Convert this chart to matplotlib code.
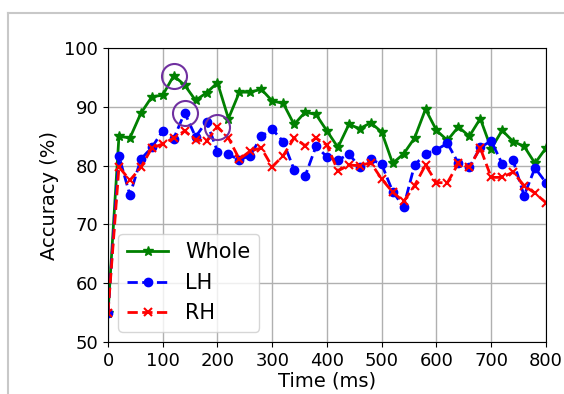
import numpy as np
import matplotlib
matplotlib.use('Agg')
from matplotlib import pyplot as plt
from matplotlib.lines import Line2D

# time axis (ms)
t = np.arange(0, 801, 20)

whole = [55.0, 85.0, 84.7, 88.9, 91.7, 92.0, 95.3, 93.7, 91.1, 92.4, 94.1,
         88.0, 92.5, 92.5, 93.0, 91.0, 90.6, 87.0, 89.1, 88.7, 85.9,
         83.1, 87.0, 86.3, 87.3, 85.7, 80.4, 82.0, 84.7, 89.6, 86.0,
         84.3, 86.6, 85.0, 88.0, 82.9, 86.0, 84.1, 83.3, 80.4, 83.0]
lh = [55.0, 81.6, 75.0, 81.1, 83.1, 85.9, 84.6, 89.0, 84.9, 87.5, 82.4,
      81.9, 81.0, 81.7, 85.0, 86.2, 84.1, 79.3, 78.2, 83.3, 81.5,
      80.9, 82.0, 79.7, 81.1, 80.2, 75.6, 73.0, 80.1, 82.0, 82.7,
      83.8, 80.4, 79.7, 83.1, 84.2, 80.3, 80.9, 74.9, 79.6, 77.1]
rh = [55.0, 79.8, 77.5, 79.7, 83.0, 83.7, 84.7, 85.9, 84.4, 84.2, 86.6,
      84.7, 81.1, 82.5, 83.0, 79.8, 81.7, 84.7, 83.4, 84.7, 83.5,
      79.1, 80.1, 80.0, 80.5, 77.7, 75.5, 73.9, 76.6, 80.1, 77.1,
      77.1, 80.4, 79.7, 83.0, 78.0, 78.0, 78.9, 76.6, 75.3, 73.7]

# highlighted peaks
peak_t = [120, 140, 200]
peak_y = [95.3, 89.0, 86.6]

fig = plt.figure(figsize=(5.64, 3.94), dpi=100)
ax = fig.add_axes([0.1915, 0.132, 0.7765, 0.746])

ax.plot(t, whole, color='green', ls='-', marker='*', ms=7, lw=2, label='Whole')
ax.plot(t, lh, color='blue', ls='--', marker='o', ms=6, lw=2, label='LH')
ax.plot(t, rh, color='red', ls='--', marker='x', ms=6, mew=1.5, lw=2, label='RH')
ax.plot(peak_t, peak_y, ls='none', marker='o', ms=18, mfc='none',
        mec='#7030a0', mew=1.5)

ax.set_xlim(0, 800)
ax.set_ylim(50, 100)
ax.set_xticks(np.arange(0, 801, 100))
ax.set_yticks(np.arange(50, 101, 10))
ax.tick_params(labelsize=13)
ax.grid(True, color='#b0b0b0', lw=1)
ax.set_xlabel('Time (ms)', fontsize=14, labelpad=1)
ax.set_ylabel('Accuracy (%)', fontsize=14)
ax.legend(loc='lower left', fontsize=15, borderaxespad=0.5)

# screenshot border
fig.add_artist(Line2D([8/564, 8/564], [0, 1 - 13/394], color='#c8c8c8', lw=1.5))
fig.add_artist(Line2D([8/564, 1], [1 - 13/394, 1 - 13/394], color='#c8c8c8', lw=1.5))

fig.savefig('out.png', dpi=100)
